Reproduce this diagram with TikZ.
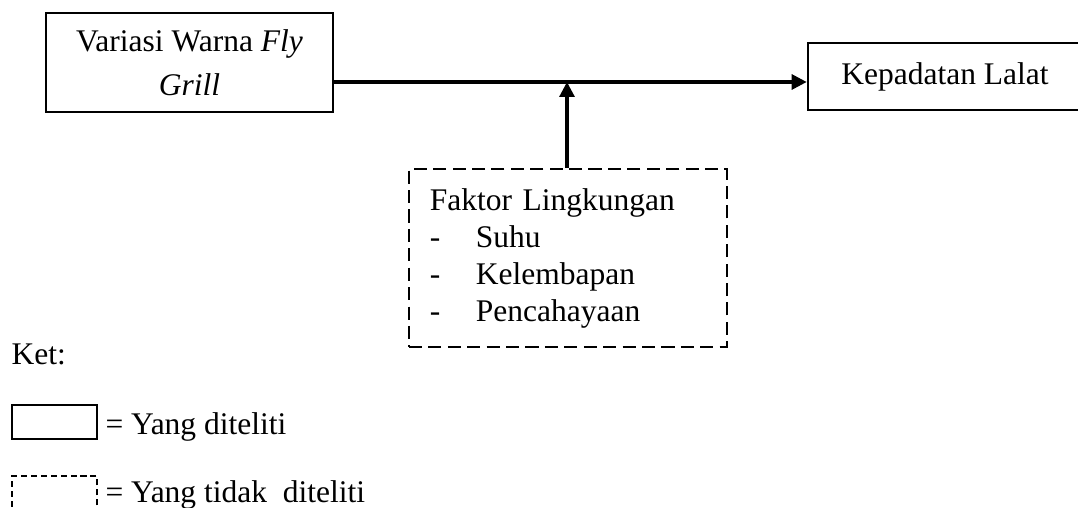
\documentclass[tikz,border=0pt]{standalone}
\usepackage{fontspec}
\setmainfont{Liberation Serif}
\usepackage{tikz}
\usetikzlibrary{arrows.meta,positioning,calc}

\tikzset{
  solidbox/.style={rectangle, draw, line width=1pt, inner sep=0pt, align=center},
  dashbox/.style={rectangle, draw, line width=0.8pt, dash pattern=on 5pt off 2.4pt},
  plain/.style={inner sep=0pt, anchor=base west},
  flow/.style={line width=1.15pt, -{Triangle[length=5.7pt,width=5.7pt]}}
}

\begin{document}
\begin{tikzpicture}[x=0.381pt, y=-0.381pt, font=\fontsize{12}{14.1}\selectfont]
    \useasboundingbox (0,0) rectangle (1078,508);

    \node (grill) [solidbox, minimum width=109.3pt, minimum height=37.7pt, font=\fontsize{12}{16.8}\selectfont] at (189.5,62.5) {Variasi Warna \textit{Fly}\\\textit{Grill}};
    \node (lalat) [solidbox, minimum width=104.4pt, minimum height=25.5pt] at (945,76.5) {Kepadatan Lalat};
    \node (faktor) [dashbox, minimum width=121.2pt, minimum height=67.8pt, text width=105.2pt, inner xsep=8pt, inner ysep=0pt, align=left] at (568,258)
        {Faktor Lingkungan\\\makebox[17.5pt][l]{-}Suhu\\\makebox[17.5pt][l]{-}Kelembapan\\\makebox[17.5pt][l]{-}Pencahayaan};

    \coordinate (jct) at (567,82);
    \draw [flow] (grill.east |- jct) -- (lalat.west |- jct);
    \draw [flow] (faktor.north -| jct) -- (jct);

    % keterangan
    \node (ket) [plain] at (11,365) {Ket:};
    \node (legsolid) [rectangle, draw, line width=0.8pt, minimum width=32.4pt, minimum height=13pt, inner sep=0pt] at (54.5,422) {};
    \node (legsolidtxt) [plain] at (105,435) {= Yang diteliti};
    \node (legdash) [rectangle, draw, line width=0.6pt, dash pattern=on 2.3pt off 1.5pt, minimum width=32.4pt, minimum height=13pt, inner sep=0pt] at (54.5,493) {};
    \node (legdashtxt) [plain] at (105,503) {= Yang tidak\ \ diteliti};
\end{tikzpicture}
\end{document}
